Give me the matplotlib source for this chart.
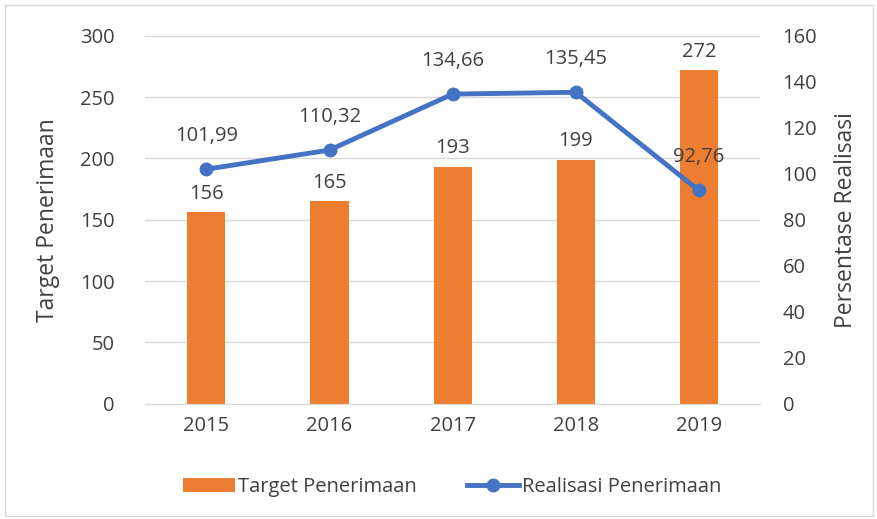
import numpy as np
import matplotlib.pyplot as plt
from matplotlib.patches import Rectangle

# Data
years = ['2015', '2016', '2017', '2018', '2019']
target = [156, 165, 193, 199, 272]
realisasi = [101.99, 110.32, 134.66, 135.45, 92.76]
realisasi_labels = ['101,99', '110,32', '134,66', '135,45', '92,76']

orange = '#ED7D31'
blue = '#4472C4'
text_col = '#404040'
plt.rcParams['font.family'] = ['Open Sans', 'DejaVu Sans']

fig = plt.figure(figsize=(8.78, 5.19), dpi=100)
ax = fig.add_axes([0.165, 0.222, 0.701, 0.709])
ax2 = ax.twinx()

x = np.arange(len(years))
bars = ax.bar(x, target, width=0.31, color=orange, label='Target Penerimaan', zorder=2)
ax.set_ylim(0, 300)
ax.set_yticks(range(0, 301, 50))
ax.set_xlim(-0.5, 4.5)
ax.set_xticks(x)
ax.set_xticklabels(years)
ax.grid(axis='y', color='#d9d9d9', linewidth=1, zorder=0)
ax.set_axisbelow(True)
for s in ['top', 'right', 'left']:
    ax.spines[s].set_visible(False)
ax.spines['bottom'].set_color('#d9d9d9')
ax.tick_params(length=0, labelsize=14.5, colors=text_col, pad=9)
ax.tick_params(axis='y', pad=22)
ax.set_ylabel('Target Penerimaan', fontsize=16.5, color=text_col, labelpad=14)

for xi, v in zip(x, target):
    ax.text(xi, v + 7, str(v), ha='center', va='bottom', fontsize=14.5, color=text_col)

line, = ax2.plot(x, realisasi, color=blue, linewidth=3.5, marker='o', markersize=9,
                 label='Realisasi Penerimaan', zorder=3)
ax2.set_ylim(0, 160)
ax2.set_yticks(range(0, 161, 20))
for s in ['top', 'right', 'left', 'bottom']:
    ax2.spines[s].set_visible(False)
ax2.tick_params(length=0, labelsize=14.5, colors=text_col, pad=16)
ax2.set_ylabel('Persentase Realisasi', fontsize=16.5, color=text_col, labelpad=12)

for xi, v, lab in zip(x, realisasi, realisasi_labels):
    ax2.text(xi, v + 10, lab, ha='center', va='bottom', fontsize=14.5, color=text_col)

fig.legend([bars, line], ['Target Penerimaan', 'Realisasi Penerimaan'],
           loc='center', bbox_to_anchor=(0.515, 0.062), ncol=2, frameon=False,
           fontsize=14.5, labelcolor=text_col, handlelength=2.6, columnspacing=2.5,
           handletextpad=0.15)

fig.add_artist(Rectangle((0.006, 0.006), 0.988, 0.985, transform=fig.transFigure,
                         fill=False, edgecolor='#d9d9d9', linewidth=1))

fig.savefig('out.png', dpi=100)
